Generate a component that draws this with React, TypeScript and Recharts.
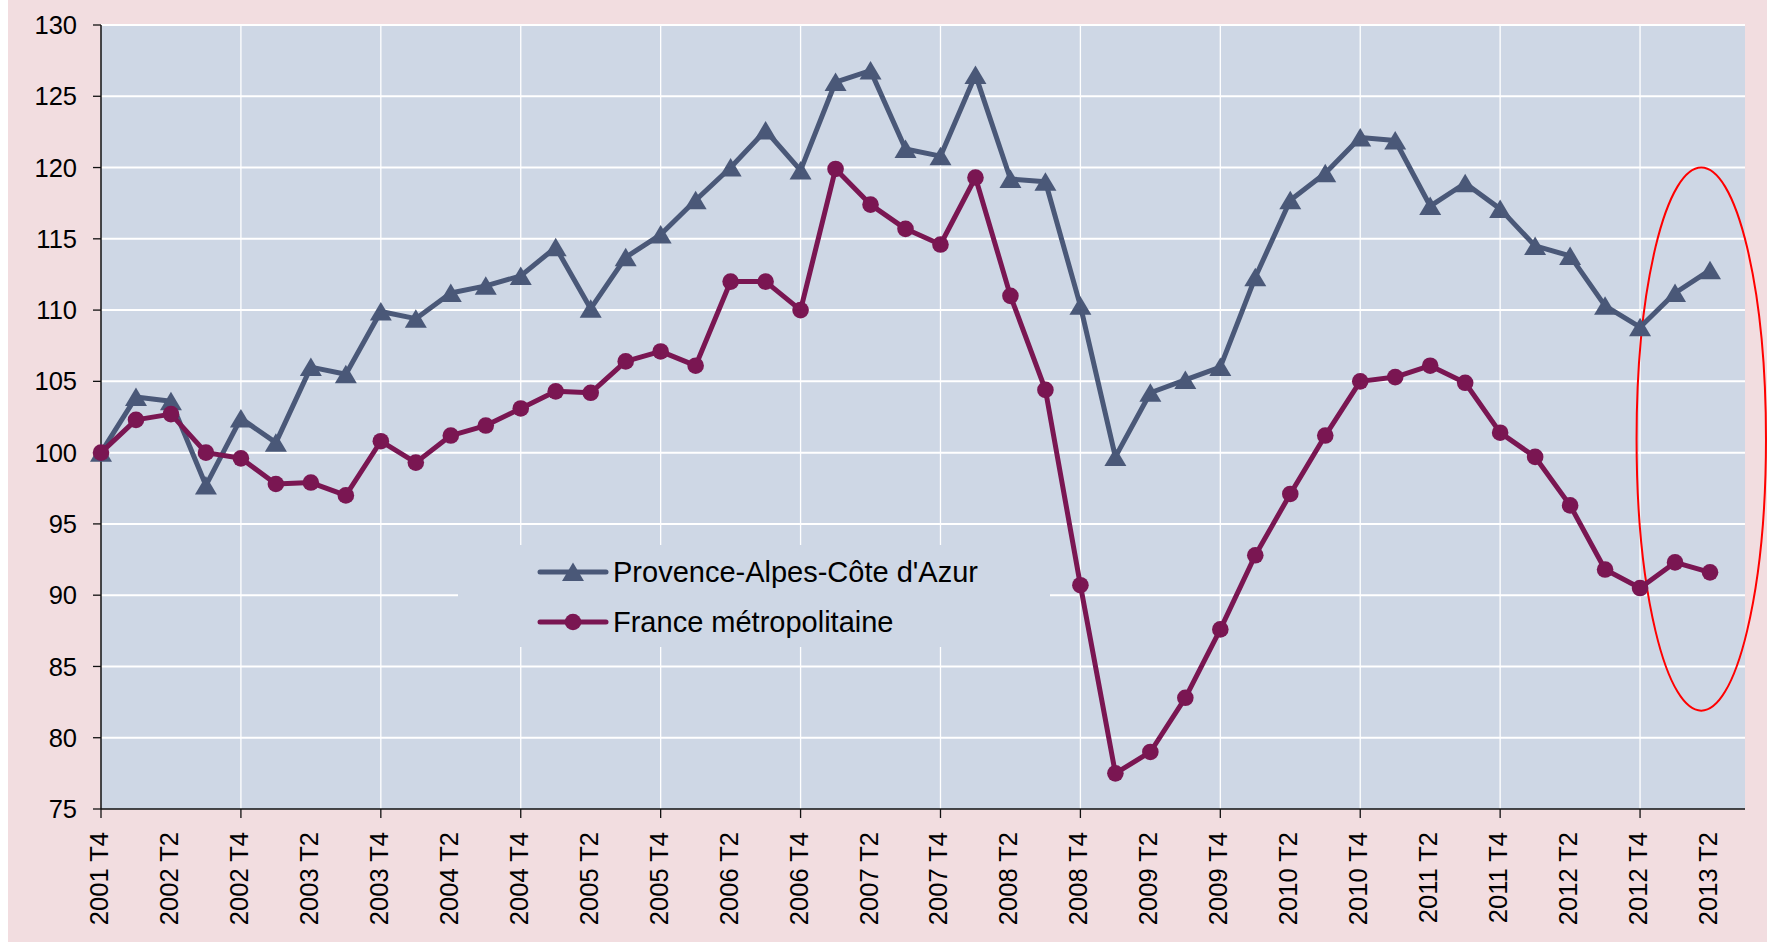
import React from 'react';
import { LineChart, Line, XAxis, YAxis, CartesianGrid, ReferenceArea } from 'recharts';

// quarters on the x axis (one empty slot is kept after the last one, like the source chart)
const quarters = [
  '2001 T4',
  '2002 T1', '2002 T2', '2002 T3', '2002 T4',
  '2003 T1', '2003 T2', '2003 T3', '2003 T4',
  '2004 T1', '2004 T2', '2004 T3', '2004 T4',
  '2005 T1', '2005 T2', '2005 T3', '2005 T4',
  '2006 T1', '2006 T2', '2006 T3', '2006 T4',
  '2007 T1', '2007 T2', '2007 T3', '2007 T4',
  '2008 T1', '2008 T2', '2008 T3', '2008 T4',
  '2009 T1', '2009 T2', '2009 T3', '2009 T4',
  '2010 T1', '2010 T2', '2010 T3', '2010 T4',
  '2011 T1', '2011 T2', '2011 T3', '2011 T4',
  '2012 T1', '2012 T2', '2012 T3', '2012 T4',
  '2013 T1', '2013 T2',
];

// indice base 100 en 2001 T4
const paca = [
  100.0, 103.9, 103.6, 97.7, 102.4, 100.7, 106.0, 105.5, 109.9, 109.4,
  111.2, 111.7, 112.4, 114.4, 110.1, 113.7, 115.3, 117.7, 120.0, 122.6,
  119.8, 126.0, 126.8, 121.3, 120.8, 126.5, 119.2, 119.0, 110.3, 99.7,
  104.2, 105.1, 106.0, 112.3, 117.7, 119.6, 122.1, 121.9, 117.3, 118.9,
  117.1, 114.5, 113.8, 110.3, 108.8, 111.2, 112.8,
];

const france = [
  100.0, 102.3, 102.7, 100.0, 99.6, 97.8, 97.9, 97.0, 100.8, 99.3,
  101.2, 101.9, 103.1, 104.3, 104.2, 106.4, 107.1, 106.1, 112.0, 112.0,
  110.0, 119.9, 117.4, 115.7, 114.6, 119.3, 111.0, 104.4, 90.7, 77.5,
  79.0, 82.8, 87.6, 92.8, 97.1, 101.2, 105.0, 105.3, 106.1, 104.9,
  101.4, 99.7, 96.3, 91.8, 90.5, 92.3, 91.6,
];

const yTicks = [75, 80, 85, 90, 95, 100, 105, 110, 115, 120, 125, 130];

const series = [
  { key: 'paca', name: "Provence-Alpes-Côte d'Azur", color: '#4a5878', marker: 'triangle' },
  { key: 'france', name: 'France métropolitaine', color: '#7a1652', marker: 'circle' },
];

const pageBg = '#f2dde0';
const plotBg = '#ced7e5';
const font = '"Liberation Sans", Arial, sans-serif';

const W = 1759;
const H = 942;

const labelTicks = quarters.map((_, i) => i).filter((i) => i % 2 === 0);
const yearLines = quarters.map((_, i) => i).filter((i) => i > 0 && quarters[i].endsWith('T4'));

const Triangle = ({ cx, cy, color }: any) => {
  if (cx == null || cy == null) return null;
  return <path d={`M${cx},${cy - 9.5} L${cx + 11},${cy + 9} L${cx - 11},${cy + 9} Z`} fill={color} />;
};

const Circle = ({ cx, cy, color }: any) => {
  if (cx == null || cy == null) return null;
  return <circle cx={cx} cy={cy} r={8.3} fill={color} />;
};

const XTick = ({ x, y, payload }: any) => {
  const idx = payload.value;
  const label = quarters[idx];
  return (
    <g>
      {label.endsWith('T4') && <line x1={x} x2={x} y1={y - 23} y2={y - 14} stroke="#111" strokeWidth={1.3} />}
      <text
        x={x - 2}
        y={y}
        transform={`rotate(-90, ${x - 2}, ${y})`}
        textAnchor="end"
        dominantBaseline="central"
        fontSize={25.5}
        fontFamily={font}
        fill="#000"
      >
        {label}
      </text>
    </g>
  );
};

const Ellipse = ({ x, y, width, height }: any) => (
  <ellipse
    cx={x + width / 2}
    cy={y + height / 2}
    rx={Math.abs(width) / 2}
    ry={Math.abs(height) / 2}
    fill="none"
    stroke="#ff0000"
    strokeWidth={2}
  />
);

const LegendBox = () => (
  <div
    style={{
      position: 'absolute',
      left: 450,
      top: 545,
      width: 592,
      height: 102,
      background: plotBg,
      fontFamily: font,
      fontSize: 29,
      color: '#000',
    }}
  >
    {series.map((s, k) => (
      <div key={s.key} style={{ position: 'absolute', left: 78, top: 2 + k * 50, height: 50, display: 'flex', alignItems: 'center' }}>
        <svg width={74} height={24} style={{ display: 'block' }}>
          <line x1={4} x2={70} y1={12} y2={12} stroke={s.color} strokeWidth={5} strokeLinecap="round" />
          {s.marker === 'triangle' ? <Triangle cx={37} cy={12} color={s.color} /> : <Circle cx={37} cy={12} color={s.color} />}
        </svg>
        <span style={{ marginLeft: 3, whiteSpace: 'nowrap' }}>{s.name}</span>
      </div>
    ))}
  </div>
);

export default function App() {
  const data = quarters.map((q, i) => ({ i, q, paca: paca[i], france: france[i] }));

  return (
    <div style={{ position: 'absolute', left: 8, top: 0, width: W, height: H, background: pageBg, fontFamily: font }}>
      <LineChart width={W} height={H} data={data} margin={{ top: 25, right: 22, bottom: 0, left: 0 }}>
        <CartesianGrid fill={plotBg} fillOpacity={1} stroke="#ffffff" strokeWidth={2} vertical={false} horizontalValues={yTicks.slice(1)} />
        <CartesianGrid stroke="#ffffff" strokeWidth={1.3} horizontal={false} verticalValues={yearLines} />
        <XAxis
          type="number"
          dataKey="i"
          domain={[0, 47]}
          ticks={labelTicks}
          interval={0}
          tick={<XTick />}
          tickLine={false}
          tickSize={9}
          tickMargin={14}
          height={133}
          axisLine={{ stroke: '#111', strokeWidth: 1.5 }}
        />
        <YAxis
          domain={[75, 130]}
          ticks={yTicks}
          interval={0}
          width={93}
          tickSize={8}
          tickMargin={16}
          tick={{ fill: '#000', fontSize: 25.5, fontFamily: font }}
          tickLine={{ stroke: '#111', strokeWidth: 1.3 }}
          axisLine={{ stroke: '#111', strokeWidth: 1.5 }}
        />
        {series.map((s) => (
          <Line
            key={s.key}
            dataKey={s.key}
            name={s.name}
            stroke={s.color}
            strokeWidth={5}
            strokeLinejoin="round"
            dot={(p: any) =>
              s.marker === 'triangle' ? (
                <Triangle key={p.index} cx={p.cx} cy={p.cy} color={s.color} />
              ) : (
                <Circle key={p.index} cx={p.cx} cy={p.cy} color={s.color} />
              )
            }
            activeDot={false}
            isAnimationActive={false}
          />
        ))}
        <ReferenceArea x1={43.9} x2={47.6} y1={81.9} y2={120} ifOverflow="visible" shape={<Ellipse />} />
      </LineChart>
      <LegendBox />
    </div>
  );
}
